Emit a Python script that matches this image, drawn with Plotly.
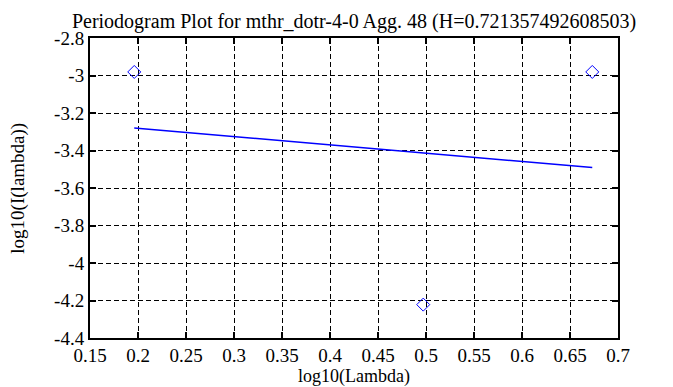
import numpy as np
import plotly.graph_objects as go

# Data
log_lambda = [0.1961, 0.4971, 0.6732]
log_I = [-2.981, -4.222, -2.981]

title_text = "Periodogram Plot for mthr_dotr-4-0 Agg. 48 (H=0.721357492608503)"
x_title = "log10(Lambda)"
y_title = "log10(I(lambda))"
x_ticks = [0.15, 0.2, 0.25, 0.3, 0.35, 0.4, 0.45, 0.5, 0.55, 0.6, 0.65, 0.7]
x_tick_labels = ["0.15", "0.2", "0.25", "0.3", "0.35", "0.4", "0.45", "0.5", "0.55", "0.6", "0.65", "0.7"]
y_ticks = [-2.8, -3.0, -3.2, -3.4, -3.6, -3.8, -4.0, -4.2, -4.4]
y_tick_labels = ["-2.8", "-3", "-3.2", "-3.4", "-3.6", "-3.8", "-4", "-4.2", "-4.4"]

# least squares fit line (as in the reference, slope = 1 - 2H)
slope, intercept = np.polyfit(log_lambda, log_I, 1)
fit_x = [log_lambda[0], log_lambda[-1]]
fit_y = [slope * v + intercept for v in fit_x]

FONT = "Liberation Serif"

fig = go.Figure()
fig.add_trace(go.Scatter(
    x=log_lambda, y=log_I, mode="markers",
    marker=dict(symbol="diamond-open", size=10, color="#0000ff", line=dict(width=1, color="#0000ff")),
    showlegend=False,
))
fig.add_trace(go.Scatter(
    x=fit_x, y=fit_y, mode="lines",
    line=dict(color="#0000ff", width=1.5),
    showlegend=False,
))

axis_common = dict(
    showline=True, linecolor="black", linewidth=2, mirror="ticks",
    ticks="inside", ticklen=6, tickwidth=2, tickcolor="black",
    showgrid=True, gridcolor="black", gridwidth=1, griddash="5px,3px",
    zeroline=False,
    tickfont=dict(family=FONT, size=19, color="black"),
)

fig.update_xaxes(range=[0.15, 0.7], tickvals=x_ticks, ticktext=x_tick_labels,
                 ticklabelstandoff=-1, **axis_common)
fig.update_yaxes(range=[-4.4, -2.8], tickvals=y_ticks, ticktext=y_tick_labels, **axis_common)

fig.add_annotation(text=x_title, xref="paper", yref="paper", x=0.5, y=-0.128,
                   xanchor="center", yanchor="middle", showarrow=False,
                   font=dict(family=FONT, size=18, color="black"))
fig.add_annotation(text=y_title, xref="paper", yref="paper", x=-0.137, y=0.5,
                   xanchor="center", yanchor="middle", textangle=-90, showarrow=False,
                   font=dict(family=FONT, size=19, color="black"))

fig.update_layout(
    width=673, height=387,
    margin=dict(l=82, r=63, t=30, b=57),
    paper_bgcolor="white", plot_bgcolor="white",
    title=dict(text=title_text, x=0.5, xref="paper", y=0.966, yref="container", yanchor="middle",
               font=dict(family=FONT, size=20, color="black")),
    font=dict(family=FONT, color="black"),
)

fig.write_html("out.html")
